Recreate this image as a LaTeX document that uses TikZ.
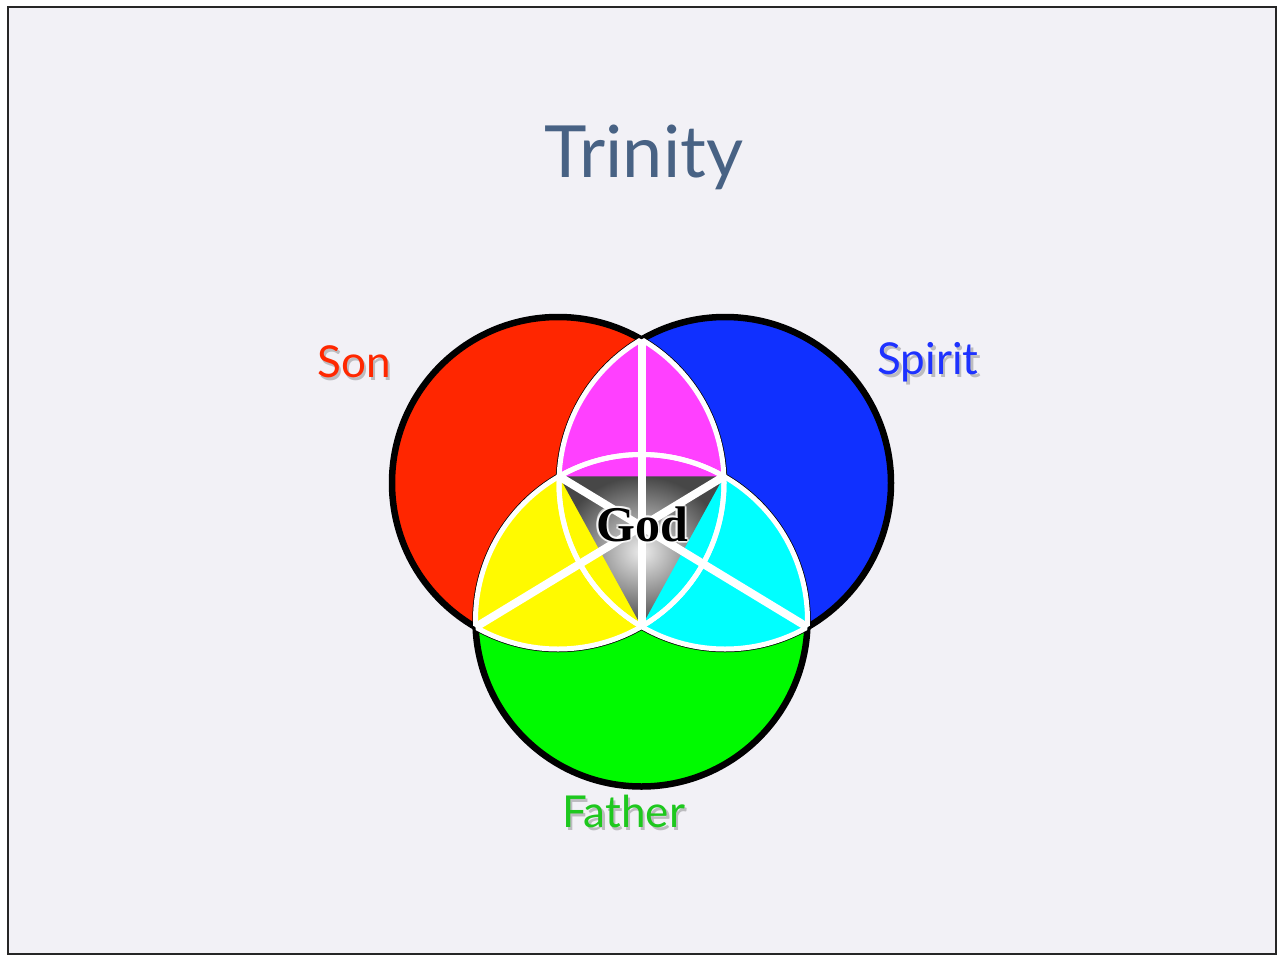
\documentclass[tikz,border=0pt]{standalone}
\usepackage{fontspec}
\setmainfont{Liberation Serif}
\newfontfamily\titlefont{Lato}
\newfontfamily\godfont{Liberation Serif}
\usetikzlibrary{calc}
\definecolor{bg}{RGB}{242,241,246}
\definecolor{cred}{RGB}{255,38,0}
\definecolor{cblue}{RGB}{16,48,255}
\definecolor{cgreen}{RGB}{0,250,0}
\definecolor{cmag}{RGB}{255,64,255}
\definecolor{cyel}{RGB}{255,250,0}
\definecolor{ccyan}{RGB}{0,255,255}
\definecolor{ttl}{RGB}{72,98,132}
\definecolor{tred}{RGB}{255,40,0}
\definecolor{tblue}{RGB}{30,50,255}
\definecolor{tgreen}{RGB}{30,200,30}
\tikzset{
  outline/.style={draw=black, line width=6.5pt},
  arcline/.style={draw=white, line width=5pt},
  spoke/.style={draw=white, line width=8pt},
  lbl/.style={font=\titlefont\fontsize{44}{44}\selectfont, anchor=base, inner sep=0pt},
  shadowlbl/.style={lbl, text=black, opacity=0.22},
  godtext/.style={font=\godfont\bfseries\fontsize{50}{50}\selectfont, anchor=base, inner sep=0pt},
}
\def\R{166}
\begin{document}
\begin{tikzpicture}[x=1pt,y=-1pt]
\useasboundingbox (0,0) rectangle (1278,956);
\fill[white] (0,0) rectangle (1278,956);
\fill[bg] (8,7) rectangle (1276,954);
\draw[line width=1.2pt, black!85] (8,7) rectangle (1276,954);

% key points
\coordinate (Cr) at (558,483);
\coordinate (Cb) at (725,483);
\coordinate (Cg) at (641.5,620.5);
\coordinate (T) at (641.5,339.5);
\coordinate (B) at (641.5,626.5);
\coordinate (UL) at (559.1,476.4);
\coordinate (UR) at (723.9,476.4);
\coordinate (LL) at (475.6,627.1);
\coordinate (LR) at (807.4,627.1);
\coordinate (O) at (641.5,526.4);

% circle fills
\fill[cred] (Cr) circle[radius=\R];
\fill[cblue] (Cb) circle[radius=\R];
\fill[cgreen] (Cg) circle[radius=\R];
% black outlines
\draw[outline] (Cr) circle[radius=\R];
\draw[outline] (Cb) circle[radius=\R];
\draw[outline] (Cg) circle[radius=\R];

% pairwise regions
\begin{scope}
\clip (Cr) circle[radius=\R];
\clip (Cb) circle[radius=\R];
\clip (O) -- (394.3,376.4) -- (394,200) -- (889,200) -- (888.7,376.4) -- cycle;
\fill[cmag] (300,200) rectangle (1000,900);
\end{scope}
\begin{scope}
\clip (Cr) circle[radius=\R];
\clip (Cg) circle[radius=\R];
\clip (O) -- (394.3,376.4) -- (300,376.4) -- (300,900) -- (641.5,900) -- cycle;
\fill[cyel] (300,200) rectangle (1000,900);
\end{scope}
\begin{scope}
\clip (Cb) circle[radius=\R];
\clip (Cg) circle[radius=\R];
\clip (O) -- (641.5,900) -- (1000,900) -- (1000,376.4) -- (888.7,376.4) -- cycle;
\fill[ccyan] (300,200) rectangle (1000,900);
\end{scope}

% central gray triangle
\shade[inner color=gray!15, outer color=black!72] (UL) -- (UR) -- (B) -- cycle;

% white inner arcs
\begin{scope}\clip (Cb) circle[radius=\R]; \draw[arcline] (Cr) circle[radius=\R];\end{scope}
\begin{scope}\clip (Cg) circle[radius=\R]; \draw[arcline] (Cr) circle[radius=\R];\end{scope}
\begin{scope}\clip (Cr) circle[radius=\R]; \draw[arcline] (Cb) circle[radius=\R];\end{scope}
\begin{scope}\clip (Cg) circle[radius=\R]; \draw[arcline] (Cb) circle[radius=\R];\end{scope}
\begin{scope}\clip (Cr) circle[radius=\R]; \draw[arcline] (Cg) circle[radius=\R];\end{scope}
\begin{scope}\clip (Cb) circle[radius=\R]; \draw[arcline] (Cg) circle[radius=\R];\end{scope}

% white spokes
\draw[spoke] (T) -- (B);
\draw[spoke] (LL) -- (UR);
\draw[spoke] (LR) -- (UL);

% God with white glow
\foreach \dx/\dy in {-2/0,2/0,0/-2,0/2,-1.5/-1.5,1.5/1.5,-1.5/1.5,1.5/-1.5}{
  \node[godtext, text=white, opacity=0.6] at (642+\dx,541+\dy) {God};
}
\node[godtext, text=black] (god) at (642,541) {God};

% title
\node[font=\titlefont\fontsize{72}{72}\selectfont, anchor=base, inner sep=0pt, text=ttl] (title) at (644,177) {Trinity};

% labels with shadows
\node[shadowlbl] at (356.5,380) {Son};
\node[lbl, text=tred] (son) at (354,377) {Son};
\node[shadowlbl] at (930.5,377) {Spirit};
\node[lbl, text=tblue] (spirit) at (928,374) {Spirit};
\node[shadowlbl] at (626,830) {Father};
\node[lbl, text=tgreen] (father) at (623.5,827) {Father};
\end{tikzpicture}
\end{document}
